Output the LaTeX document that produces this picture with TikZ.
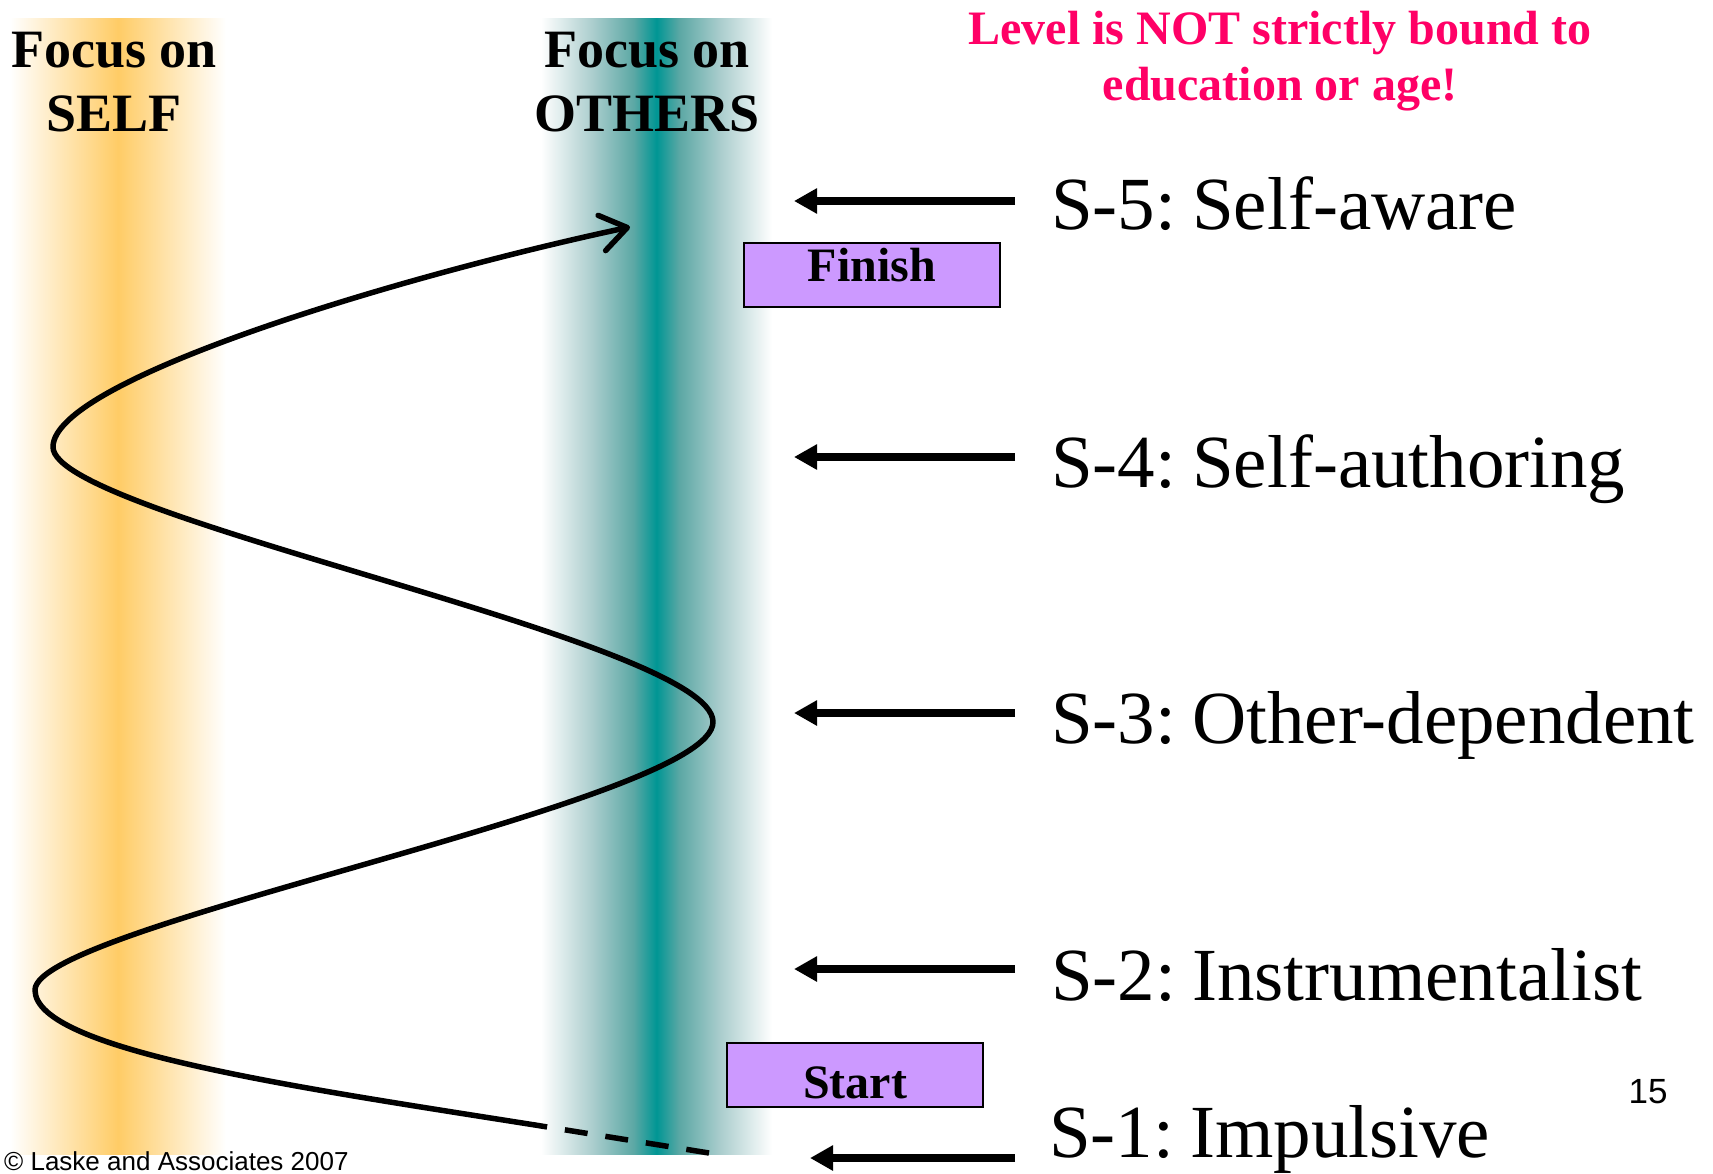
\documentclass[tikz,border=0pt]{standalone}
\usepackage{fontspec}
\setmainfont{Liberation Serif}
\newfontfamily\arialfont{Liberation Sans}
\usetikzlibrary{arrows.meta}

\definecolor{bandorange}{RGB}{255,204,102}
\definecolor{bandteal}{RGB}{0,150,148}
\definecolor{tealmid}{RGB}{92,168,165}
\definecolor{teallight}{RGB}{172,206,206}
\definecolor{boxlilac}{RGB}{204,153,255}
\definecolor{notepink}{RGB}{255,0,102}

% vertical colour bands (colours vary along x)
\pgfdeclarehorizontalshading{selfband}{100bp}{%
  color(0bp)=(white); color(25bp)=(white); color(50bp)=(bandorange);
  color(75bp)=(white); color(100bp)=(white)}
\pgfdeclarehorizontalshading{othersband}{100bp}{%
  color(0bp)=(white); color(25bp)=(white); color(36bp)=(teallight);
  color(45bp)=(tealmid); color(50bp)=(bandteal); color(55bp)=(tealmid);
  color(64bp)=(teallight); color(75bp)=(white); color(100bp)=(white)}

% gap after the stage number
\newcommand\stagegap{\hspace{16pt}}

\tikzset{
  heading/.style={font=\bfseries\fontsize{54}{64}\selectfont, align=center, inner sep=0pt},
  note/.style={font=\bfseries\fontsize{48}{56}\selectfont, text=notepink, align=center, inner sep=0pt},
  stagelabel/.style={font=\fontsize{75}{80}\selectfont, anchor=base west, inner sep=0pt},
  levelarrow/.style={line width=8pt, -{Triangle[length=23pt,width=24pt]}},
  stagebox/.style={draw=black, line width=2.5pt, fill=boxlilac, minimum width=256pt, minimum height=64pt, inner sep=0pt},
  boxtext/.style={font=\bfseries\fontsize{48}{56}\selectfont, anchor=base, inner sep=0pt},
  devpath/.style={line width=5.5pt, line cap=round, line join=round},
  smallsans/.style={font=\arialfont\fontsize{26}{30}\selectfont, inner sep=0pt},
}

\begin{document}
\begin{tikzpicture}[x=1pt, y=-1pt]
\useasboundingbox (0,0) rectangle (1713,1174);

% background bands
\fill[shading=selfband] (10,19) rectangle (226,1154);
\fill[shading=othersband] (541,19) rectangle (772,1154);

% headings
\node[heading, anchor=north] (selfhead) at (114,32) {Focus on\\SELF};
\node[heading, anchor=north] (othershead) at (647,32) {Focus on\\OTHERS};
\node[note, anchor=north] (remark) at (1280,11) {Level is NOT strictly bound to\\education or age!};

% developmental path
\coordinate (p0) at (709,1153);
\coordinate (p1) at (535,1125);
\coordinate (l1) at (35,990);
\coordinate (r1) at (713,722);
\coordinate (l2) at (53,447);
\coordinate (tip) at (630,227);
\draw[devpath, line cap=butt, dash pattern=on 23pt off 18pt] (p0) -- (p1);
\draw[devpath, -{Straight Barb[length=26pt,width=36pt,round]}]
  (p1) .. controls (295,1087) and (35,1050) .. (l1)
       .. controls (35,925) and (713,802) .. (r1)
       .. controls (713,640) and (53,517) .. (l2)
       .. controls (53,380) and (400,276) .. (tip);

% start / finish markers
\node[stagebox] (finishbox) at (872,275) {};
\node[boxtext] (finish) at (872,282) {Finish};
\node[stagebox] (startbox) at (855,1075) {};
\node[boxtext] (start) at (855,1098) {Start};

% stage labels
\node[stagelabel] (s5) at (1051,230) {S-5:\stagegap Self-aware};
\node[stagelabel] (s4) at (1051,487) {S-4:\stagegap Self-authoring};
\node[stagelabel] (s3) at (1051,743) {S-3:\stagegap Other-dependent};
\node[stagelabel] (s2) at (1051,1000) {S-2:\stagegap Instrumentalist};
\node[stagelabel] (s1) at (1049,1157) {S-1:\stagegap Impulsive};

% level arrows
\coordinate (t5) at (1015,201);  \coordinate (h5) at (794,201);
\coordinate (t4) at (1015,457);  \coordinate (h4) at (794,457);
\coordinate (t3) at (1015,713);  \coordinate (h3) at (794,713);
\coordinate (t2) at (1015,969);  \coordinate (h2) at (794,969);
\coordinate (t1) at (1015,1158); \coordinate (h1) at (810,1158);
\foreach \i in {1,...,5} {\draw[levelarrow] (t\i) -- (h\i);}

% footer
\node[smallsans, anchor=base west] (copyright) at (4,1170) {© Laske and Associates 2007};
\node[smallsans, font=\arialfont\fontsize{35}{40}\selectfont, anchor=base] (pagenum) at (1648,1103) {15};
\end{tikzpicture}
\end{document}
